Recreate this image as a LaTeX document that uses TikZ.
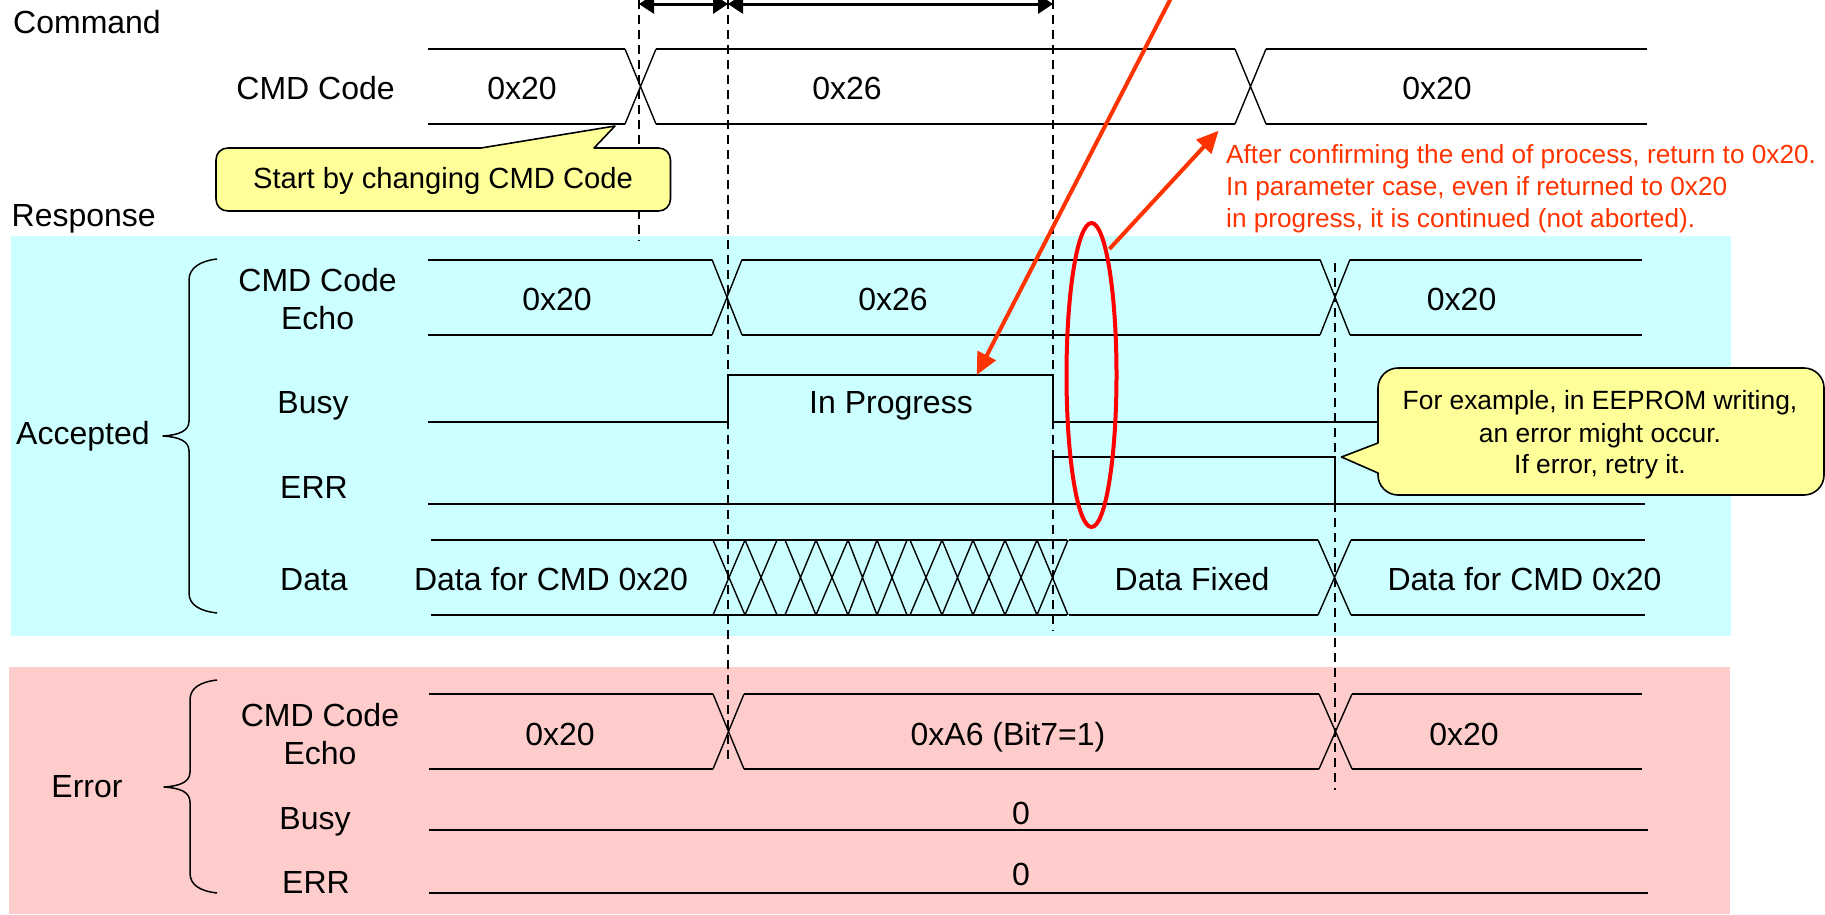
\documentclass[tikz,border=0pt]{standalone}
\usepackage{fontspec}
\setmainfont{Liberation Sans}
\usetikzlibrary{arrows.meta,shapes.geometric}
\definecolor{bgcyan}{HTML}{CCFFFF}
\definecolor{bgred}{HTML}{FFCCCC}
\definecolor{noteyellow}{HTML}{FFFF99}
\definecolor{notered}{HTML}{FF3300}
\definecolor{ringred}{HTML}{FF0000}
\tikzset{
  lab/.style={anchor=base,inner sep=0pt,font=\fontsize{32}{38}\selectfont,align=center},
  lableft/.style={anchor=base west,inner sep=0pt,font=\fontsize{32}{38}\selectfont},
  notetext/.style={anchor=base west,inner sep=0pt,text=notered,font=\fontsize{26.2}{32}\selectfont},
  calltext/.style={anchor=base,inner sep=0pt,font=\fontsize{26.4}{32}\selectfont},
  calltextb/.style={anchor=base,inner sep=0pt,font=\fontsize{29.2}{34}\selectfont},
  hline/.style={line width=2pt,line join=miter},
  diag/.style={line width=1.4pt},
  guide/.style={line width=1.4pt,dash pattern=on 9pt off 6pt},
  span/.style={line width=3pt,{Triangle[length=15pt,width=19pt]}-{Triangle[length=15pt,width=19pt]}},
  redarrow/.style={line width=4pt,notered,-{Triangle[length=22pt,width=20pt]}},
  note/.style={fill=noteyellow,draw=black,line width=1.6pt,line join=round},
  bracel/.style={line width=1.5pt,line join=round},
}
% top bottom x0 a1 b1 a2 b2 x1
\newcommand{\xbus}[8]{%
  \draw[hline] (#3,#1) -- (#4,#1) (#5,#1) -- (#6,#1) (#7,#1) -- (#8,#1);
  \draw[hline] (#3,#2) -- (#4,#2) (#5,#2) -- (#6,#2) (#7,#2) -- (#8,#2);
  \draw[diag] (#4,#1) -- (#5,#2) (#4,#2) -- (#5,#1) (#6,#1) -- (#7,#2) (#6,#2) -- (#7,#1);
}
\begin{document}
\begin{tikzpicture}[x=1pt,y=-1pt]
\useasboundingbox (0,0) rectangle (1825,914);
% backgrounds
\fill[bgcyan] (11,236) rectangle (1731,636);
\fill[bgred] (9,667) rectangle (1730,914);
% guides
\coordinate (g1t) at (639,0);   \coordinate (g1b) at (639,241);
\coordinate (g2t) at (728,0);   \coordinate (g2b) at (728,763);
\coordinate (g3t) at (1053,0);  \coordinate (g3b) at (1053,631);
\coordinate (g4t) at (1335,263);\coordinate (g4b) at (1335,790);
\draw[guide] (g1t) -- (g1b);
\draw[guide] (g2t) -- (g2b);
\draw[guide] (g3t) -- (g3b);
\draw[guide] (g4t) -- (g4b);
% span arrows
\coordinate (s1) at (639,4); \coordinate (s2) at (728,4); \coordinate (s3) at (1053,4);
\draw[span] (s1) -- (s2);
\draw[span] (s2) -- (s3);
% command bus
\xbus{49}{124}{428}{625}{656}{1235}{1266}{1647}
% accepted echo
\xbus{259.5}{335}{428}{712}{742}{1320}{1350}{1642}
% busy
\draw[hline] (428,422) -- (728,422) -- (728,375) -- (1053,375) -- (1053,422) -- (1385,422);
% err
\draw[hline] (428,504) -- (1645,504);
\draw[hline] (1053,504) -- (1053,457) -- (1335,457) -- (1335,504);
% data
\draw[hline] (431,540) -- (1067,540) (1069,540) -- (1318,540) (1351,540) -- (1645,540);
\draw[hline] (431,615) -- (1067,615) (1069,615) -- (1318,615) (1351,615) -- (1645,615);
\foreach \a/\b in {713/745,745/777,785/816,816/848,848/877,877/907,910/942,942/973,973/1005,1005/1037,1037/1068}{
  \draw[diag] (\a,540) -- (\b,615) (\a,615) -- (\b,540);
}
\draw[diag] (1318,540) -- (1351,615) (1318,615) -- (1351,540);
% error bus
\xbus{694}{769}{429}{713}{744}{1319}{1352}{1642}
\draw[hline] (429,830) -- (1648,830);
\draw[hline] (429,893) -- (1648,893);
% braces
\draw[bracel] (217,259) .. controls (200,261) and (189,268) .. (189,280) -- (189,421) .. controls (189,431) and (179,435) .. (163,436) .. controls (179,437) and (189,441) .. (189,451) -- (189,593) .. controls (189,605) and (200,611) .. (217,613);
\draw[bracel] (217,680) .. controls (200,682) and (190,688) .. (190,700) -- (190,772) .. controls (190,782) and (180,786) .. (164,787) .. controls (180,788) and (190,792) .. (190,802) -- (190,873) .. controls (190,885) and (200,891) .. (217,893);
% callouts
\coordinate (tip1) at (615,126);
\draw[note] (228,148) -- (481,148) -- (tip1) -- (594,148) -- (658.5,148) .. controls (665,148) and (670.5,153) .. (670.5,160) -- (670.5,199) .. controls (670.5,206) and (665,211) .. (658.5,211) -- (228,211) .. controls (221,211) and (216,206) .. (216,199) -- (216,160) .. controls (216,153) and (221,148) .. (228,148) -- cycle;
\coordinate (tip2) at (1341.5,457);
\draw[note] (1398,368) -- (1804,368) .. controls (1815,368) and (1824,377) .. (1824,388) -- (1824,475) .. controls (1824,486) and (1815,495) .. (1804,495) -- (1398,495) .. controls (1387,495) and (1378,486) .. (1378,475) -- (1378,473) -- (tip2) -- (1378,443) -- (1378,388) .. controls (1378,377) and (1387,368) .. (1398,368) -- cycle;
\node[calltextb] (c1) at (443,188) {Start by changing CMD Code};
\node[calltext] (c2a) at (1600,409) {For example, in EEPROM writing,};
\node[calltext] (c2b) at (1600,442) {an error might occur.};
\node[calltext] (c2c) at (1600,473) {If error, retry it.};
% ring
\node[draw=ringred,line width=4pt,ellipse,minimum width=50pt,minimum height=304pt,inner sep=0pt] (ring) at (1091.5,375) {};
% red arrows
\coordinate (la) at (1171,-2);
\coordinate (lb) at (976.7,375);
\draw[redarrow] (la) -- (lb);
\coordinate (ra) at (1109.4,249);
\coordinate (rb) at (1218.6,130.7);
\draw[redarrow] (ra) -- (rb);
% left labels
\node[lableft] (tcmd) at (13,33) {Command};
\node[lableft] (tresp) at (11.5,226) {Response};
\node[lab] (l1) at (315.6,99) {CMD Code};
\node[lab] (l2) at (317.6,291) {CMD Code};
\node[lab] (l2b) at (317.6,329) {Echo};
\node[lab] (l3) at (313,413) {Busy};
\node[lab] (l4) at (314,498) {ERR};
\node[lab] (l5) at (314,590) {Data};
\node[lableft] (tacc) at (16,444) {Accepted};
\node[lab] (terr) at (87,797) {Error};
\node[lab] (l6) at (320,726) {CMD Code};
\node[lab] (l6b) at (320,764) {Echo};
\node[lab] (l7) at (315,829) {Busy};
\node[lab] (l8) at (316,893) {ERR};
% values
\node[lab] (v1) at (522,99) {0x20};
\node[lab] (v2) at (847,99) {0x26};
\node[lab] (v3) at (1437,99) {0x20};
\node[lab] (v4) at (557,310) {0x20};
\node[lab] (v5) at (893,310) {0x26};
\node[lab] (v6) at (1461.6,310) {0x20};
\node[lab] (v7) at (891,413) {In Progress};
\node[lab] (v8) at (551,590) {Data for CMD 0x20};
\node[lab] (v9) at (1192,590) {Data Fixed};
\node[lab] (v10) at (1524.5,590) {Data for CMD 0x20};
\node[lab] (v11) at (560,745) {0x20};
\node[lab] (v12) at (1008,745) {0xA6 (Bit7=1)};
\node[lab] (v13) at (1464,745) {0x20};
\node[lab] (v14) at (1021,824) {0};
\node[lab] (v15) at (1021,885) {0};
% red note
\node[notetext] (n1) at (1226,163) {After confirming the end of process, return to 0x20.};
\node[notetext] (n2) at (1226,195) {In parameter case, even if returned to 0x20};
\node[notetext] (n3) at (1226,227) {in progress, it is continued (not aborted).};
\end{tikzpicture}
\end{document}
